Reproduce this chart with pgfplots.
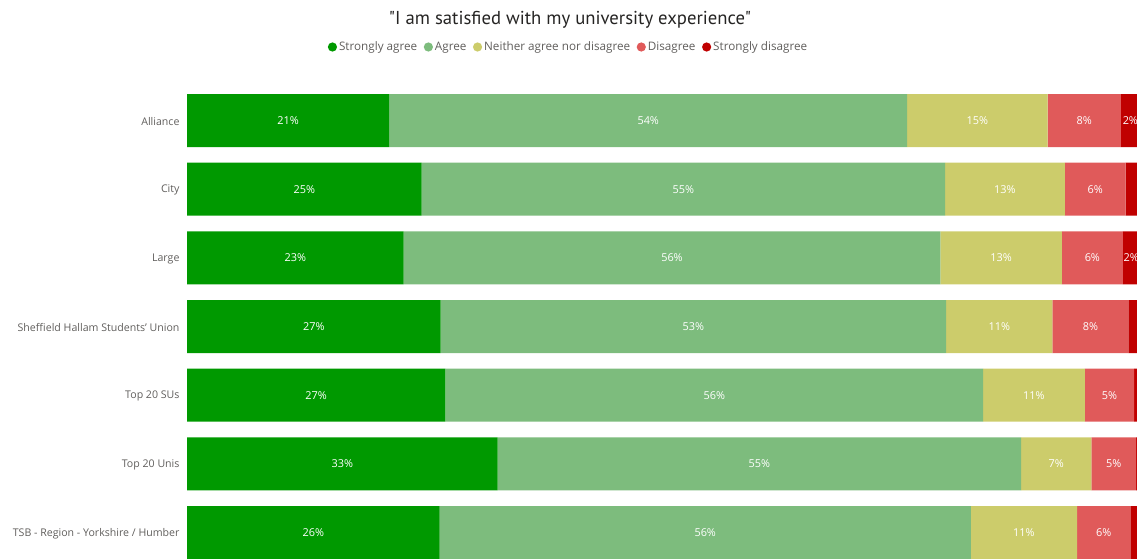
\documentclass[border=0pt]{standalone}
\usepackage{fontspec}
\setmainfont{Open Sans}
\newfontfamily\titlefont{PT Sans}
\usepackage{pgfplots}
\pgfplotsset{compat=1.18}
\definecolor{sa}{HTML}{009900}
\definecolor{ag}{HTML}{7DBC7D}
\definecolor{ne}{HTML}{CCCC6B}
\definecolor{di}{HTML}{E05A5A}
\definecolor{sd}{HTML}{C00000}
\definecolor{lab}{HTML}{605E5C}
\definecolor{tit}{HTML}{252423}
\pgfplotsset{
  common/.style={
    at={(187pt,0pt)}, anchor=south west,
    scale only axis, width=950pt, height=471.8pt,
    xmin=0, xmax=100,
    ymin=-0.5, ymax=6.371, y dir=reverse,
  }
}
\begin{document}
\begin{tikzpicture}[x=1pt,y=1pt]
\useasboundingbox (0,0) rectangle (1137,558);
\begin{axis}[
  common,
  xbar stacked, bar width=53pt,
  ytick={0,...,6},
  yticklabels={Alliance,City,Large,Sheffield Hallam Students' Union,Top 20 SUs,Top 20 Unis,TSB - Region - Yorkshire / Humber},
  yticklabel style={font=\fontsize{10.6}{12}\selectfont, text=lab, anchor=east, xshift=-4pt, yshift=-1pt},
  xtick=\empty,
  axis line style={draw=none},
  major tick length=0pt,
  tick style={draw=none},
  title={\titlefont\fontsize{18.7}{22}\selectfont "I am satisfied with my university experience"},
  title style={at={(axis description cs:0.4032,1.1277)}, anchor=center, text=tit},
  legend columns=5,
  legend style={at={(axis description cs:0.4016,1.0831)}, anchor=center, draw=none, fill=none,
    font=\fontsize{11.7}{13}\selectfont, text=lab,
    /tikz/every even column/.append style={column sep=4.5pt},
    inner sep=0pt},
  legend image code/.code={\fill[#1] (3pt,0pt) circle (4.6pt);},
]
\addplot[fill=sa, draw=none] coordinates {(21.3,0) (24.7,1) (22.8,2) (26.7,3) (27.2,4) (32.7,5) (26.6,6)};
\addplot[fill=ag, draw=none] coordinates {(54.5,0) (55.1,1) (56.5,2) (53.2,3) (56.6,4) (55.1,5) (55.9,6)};
\addplot[fill=ne, draw=none] coordinates {(14.8,0) (12.6,1) (12.8,2) (11.2,3) (10.7,4) (7.4,5) (11.2,6)};
\addplot[fill=di, draw=none] coordinates {(7.7,0) (6.4,1) (6.4,2) (8.0,3) (5.2,4) (4.7,5) (5.6,6)};
\addplot[fill=sd, draw=none] coordinates {(1.7,0) (1.2,1) (1.5,2) (0.9,3) (0.3,4) (0.2,5) (0.7,6)};
\legend{Strongly agree,Agree,Neither agree nor disagree,Disagree,Strongly disagree}
\end{axis}
% value labels at the middle of each segment
\begin{axis}[
  common, hide axis, clip=false,
  point meta=explicit symbolic,
  nodes near coords={\pgfplotspointmeta},
  every node near coord/.style={anchor=center, text=white, font=\fontsize{10.9}{12}\selectfont, inner sep=0pt},
]
\addplot[only marks, mark=none] coordinates {
 (10.65,0) [21\%] (48.55,0) [54\%] (83.2,0) [15\%] (94.45,0) [8\%] (99.3,0) [2\%]
 (12.35,1) [25\%] (52.25,1) [55\%] (86.1,1) [13\%] (95.6,1) [6\%]
 (11.4,2) [23\%] (51.05,2) [56\%] (85.7,2) [13\%] (95.3,2) [6\%] (99.4,2) [2\%]
 (13.35,3) [27\%] (53.3,3) [53\%] (85.5,3) [11\%] (95.1,3) [8\%]
 (13.6,4) [27\%] (55.5,4) [56\%] (89.15,4) [11\%] (97.1,4) [5\%]
 (16.35,5) [33\%] (60.25,5) [55\%] (91.5,5) [7\%] (97.55,5) [5\%]
 (13.3,6) [26\%] (54.55,6) [56\%] (88.1,6) [11\%] (96.5,6) [6\%]
};
\end{axis}
\end{tikzpicture}
\end{document}
